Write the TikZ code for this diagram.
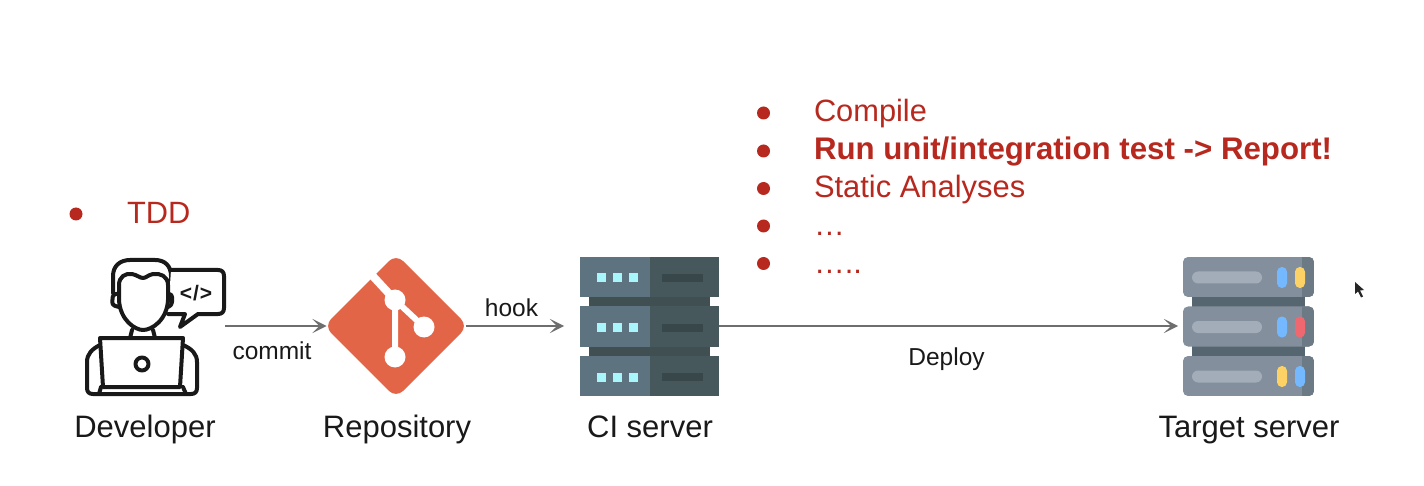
\documentclass[tikz,border=0pt]{standalone}
\usepackage{fontspec}
\setmainfont{Liberation Sans}
\usetikzlibrary{arrows.meta,shapes.geometric}
\definecolor{redtxt}{HTML}{B7291F}
\definecolor{ciL}{HTML}{5D7480}
\definecolor{ciR}{HTML}{47585C}
\definecolor{ciB}{HTML}{3F4F52}
\definecolor{ciD}{HTML}{37474A}
\definecolor{ciS}{HTML}{A8F5FB}
\definecolor{tBody}{HTML}{838F9C}
\definecolor{tStrip}{HTML}{6C7A86}
\definecolor{tConn}{HTML}{566670}
\definecolor{tPill}{HTML}{A3ADBA}
\definecolor{tBlue}{HTML}{74B8FF}
\definecolor{tYel}{HTML}{FCD166}
\definecolor{tRed}{HTML}{F0686F}
\definecolor{gitc}{HTML}{E36548}
\definecolor{arrc}{HTML}{6E6E6E}
\tikzset{
  x=0.5pt,y=-0.5pt,
  box/.style={inner sep=0pt,outer sep=0pt},
  caption/.style={box,anchor=base,text=black!90,font=\fontsize{15.5}{18}\selectfont},
  edgelabel/.style={box,anchor=base,text=black!90,font=\fontsize{12.25}{15}\selectfont},
  bullettxt/.style={box,anchor=base west,text=redtxt,font=\fontsize{15.4}{18}\selectfont},
  bulletdot/.style={circle,fill=redtxt,inner sep=0pt,outer sep=0pt,minimum size=6.5pt},
  conn/.style={draw=arrc,line width=0.8pt,-{Stealth[length=7pt,width=7pt,inset=3.5pt]}},
  ink/.style={draw=black!90,line width=2pt,line join=round,line cap=round,fill=white},
}
\begin{document}
\begin{tikzpicture}
\useasboundingbox (0,0) rectangle (1424,486);
\fill[white] (0,0) rectangle (1424,486);

% anchor boxes for connectors
\node[box,minimum width=70pt,minimum height=68pt] (dev) at (155,326) {};
\node[box,minimum width=69.5pt,minimum height=69.5pt] (repo) at (396,326) {};
\node[box,minimum width=69.5pt,minimum height=69.5pt] (ci) at (649.5,326) {};
\node[box,minimum width=65.5pt,minimum height=69.5pt] (target) at (1248.5,326) {};

% developer
\draw[ink,fill=none] (113,293) -- (113,276) .. controls (113,266) and (120,260) .. (130,260) -- (155,260) .. controls (165,260) and (171,266) .. (171,276) -- (171,293);
\draw[ink] (171,270) -- (218,270) .. controls (222,270) and (224,272) .. (224,276) -- (224,308) .. controls (224,312) and (222,314) .. (218,314) -- (198,314) -- (180,327) -- (185,314) -- (168,314);
\draw[ink,rounded corners=1.5pt] (119,294) -- (113,294) -- (112,305) -- (119,307);
\draw[ink,rounded corners=1.5pt] (168,294) -- (172,294) -- (172,305) -- (168,307);
\draw[ink] (119,300) .. controls (120,320) and (135,330) .. (143,330) .. controls (152,330) and (167,320) .. (168,300) -- (168,285) .. controls (168,276) and (160,273) .. (153,274) .. controls (148,275) and (146,278) .. (143,278) .. controls (140,278) and (137,275) .. (132,274) .. controls (125,273) and (119,277) .. (119,285) -- cycle;
\draw[ink,fill=none] (132,330) -- (130,338) (153,330) -- (155,338);
\draw[ink] (100,345) .. controls (92,349) and (87,354) .. (87,362) -- (87,388) .. controls (87,392) and (89,394) .. (93,394) -- (191,394) .. controls (195,394) and (197,392) .. (197,388) -- (197,362) .. controls (197,354) and (192,349) .. (183,345);
\draw[ink] (100,338) -- (183,338) -- (180,387) -- (103,387) -- cycle;
\draw[ink,fill=none] (99,394) -- (101,387) (183,387) -- (186,394);
\draw[ink] (142,364) circle (6.5);
\node[box,font=\bfseries\fontsize{10.5}{12}\selectfont,text=black!90] (code) at (196,293) {<\hspace{0.5pt}/\hspace{0.5pt}>};

% git
\node[diamond,fill=gitc,rounded corners=5pt,minimum width=72pt,minimum height=72pt,inner sep=0pt,outer sep=0pt,aspect=1] (gitshape) at (396,326) {};
\draw[white,line width=4pt] (369,272) -- (395,300);
\draw[white,line width=3pt] (395,300) -- (424,327) (395,300) -- (395,357);
\fill[white] (395,300) circle (10.5) (424,327) circle (10.5) (395,357) circle (10.5);

% CI server
\fill[ciB] (589,297) rectangle (710,356);
\foreach \t in {257,306.5,356}{
  \fill[ciL] (580,\t) rectangle (650,\t+40);
  \fill[ciR] (650,\t) rectangle (719,\t+40);
  \fill[ciD] (662,\t+17) rectangle (703,\t+25);
  \foreach \s in {601,617.5,633}{ \fill[ciS] (\s-4.5,\t+16.5) rectangle (\s+4.5,\t+25.5); }
}

% target server
\fill[tConn] (1192,297) rectangle (1305,356);
\foreach \t/\a/\b in {257/tBlue/tYel,306.5/tBlue/tRed,356/tYel/tBlue}{
  \begin{scope}
    \clip[rounded corners=2.5pt] (1183,\t) rectangle (1314,\t+40);
    \fill[tBody] (1183,\t) rectangle (1314,\t+40);
    \fill[tStrip] (1302,\t) rectangle (1314,\t+40);
  \end{scope}
  \fill[tPill,rounded corners=3pt] (1192,\t+14.5) rectangle (1262,\t+26.5);
  \fill[\a,rounded corners=2.4pt] (1277,\t+10) rectangle (1287,\t+31);
  \fill[\b,rounded corners=2.4pt] (1295,\t+10) rectangle (1305,\t+31);
}

% captions
\node[caption] (devlabel) at (145,437) {Developer};
\node[caption] (repolabel) at (397,437) {Repository};
\node[caption] (cilabel) at (650,437) {CI server};
\node[caption] (targetlabel) at (1249,437) {Target server};

% connectors
\draw[conn] (dev.east) -- (repo.west);
\draw[conn,shorten >=8pt] (repo.east) -- (ci.west);
\draw[conn,shorten >=2.5pt] (ci.east) -- (target.west);
\node[edgelabel] (commit) at (272,359) {commit};
\node[edgelabel] (hook) at (511.5,316) {hook};
\node[edgelabel] (deploy) at (946.5,365) {Deploy};

% bullet lists
\node[bulletdot] (b0) at (76,214) {};
\node[bullettxt] (t0) at (127,224) {TDD};
\node[bulletdot] (b1) at (763.5,113) {};
\node[bullettxt] (t1) at (814,122) {Compile};
\node[bulletdot] (b2) at (763.5,151) {};
\node[bullettxt,font=\bfseries\fontsize{15.62}{18}\selectfont] (t2) at (814,160) {Run unit/integration test -> Report!};
\node[bulletdot] (b3) at (763.5,188.5) {};
\node[bullettxt,font=\fontsize{15.45}{18}\selectfont] (t3) at (814,198) {Static Analyses};
\node[bulletdot] (b4) at (763.5,226) {};
\node[bullettxt] (t4) at (814,236) {…};
\node[bulletdot] (b5) at (763.5,263.5) {};
\node[bullettxt] (t5) at (814,274) {…..};

% mouse pointer
\fill[black!85] (1355,282) -- (1355,294) -- (1358,291.5) -- (1361,297.5) -- (1363,296.5) -- (1360,290.5) -- (1364,290) -- cycle;
\end{tikzpicture}
\end{document}
